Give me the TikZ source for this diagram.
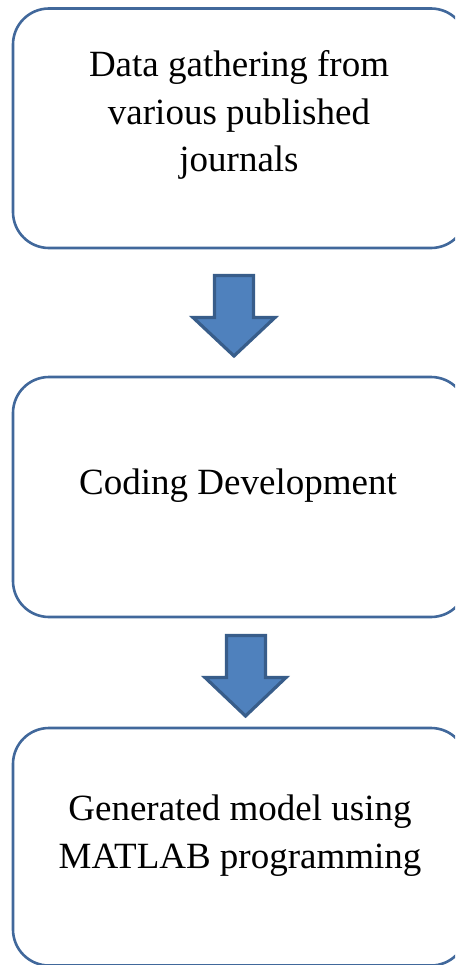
\documentclass[tikz,border=0pt]{standalone}
\usepackage{fontspec}
\setmainfont{Liberation Serif}
\definecolor{boxline}{RGB}{65,104,155}
\definecolor{arrfill}{RGB}{79,129,189}
\definecolor{arrline}{RGB}{56,93,138}
\begin{document}
\begin{tikzpicture}[x=1pt,y=-1pt,
  flowbox/.style={draw=boxline, line width=2.6pt, rounded corners=36pt,
    minimum width=454pt, inner sep=0pt},
  boxtext/.style={align=center, font=\fontsize{37}{47.5}\selectfont, inner sep=0pt},
  blockarrow/.style={fill=arrfill, draw=arrline, line width=3.2pt, line join=miter}]
\useasboundingbox (0,0) rectangle (455,965);
\clip (0,0) rectangle (455,965);
\node[flowbox, minimum height=239.5pt] (box1) at (240,128.25) {};
\node[flowbox, minimum height=240pt] (box2) at (240,497) {};
\node[flowbox, minimum height=237.5pt] (box3) at (240,846.75) {};
\node[boxtext] (t1) at (239,115) {Data gathering from\\various published\\journals};
\node[boxtext] (t2) at (238,486) {Coding Development};
\node[boxtext] (t3) at (240,835.5) {Generated model using\\MATLAB programming};
\draw[blockarrow] (214.5,275.5) -- (253.5,275.5) -- (253.5,317.5) -- (275,317.5)
  -- (234,356) -- (193,317.5) -- (214.5,317.5) -- cycle;
\draw[blockarrow] (226.5,635.5) -- (265.5,635.5) -- (265.5,677.5) -- (286,677.5)
  -- (245.5,716) -- (205,677.5) -- (226.5,677.5) -- cycle;
\end{tikzpicture}
\end{document}
